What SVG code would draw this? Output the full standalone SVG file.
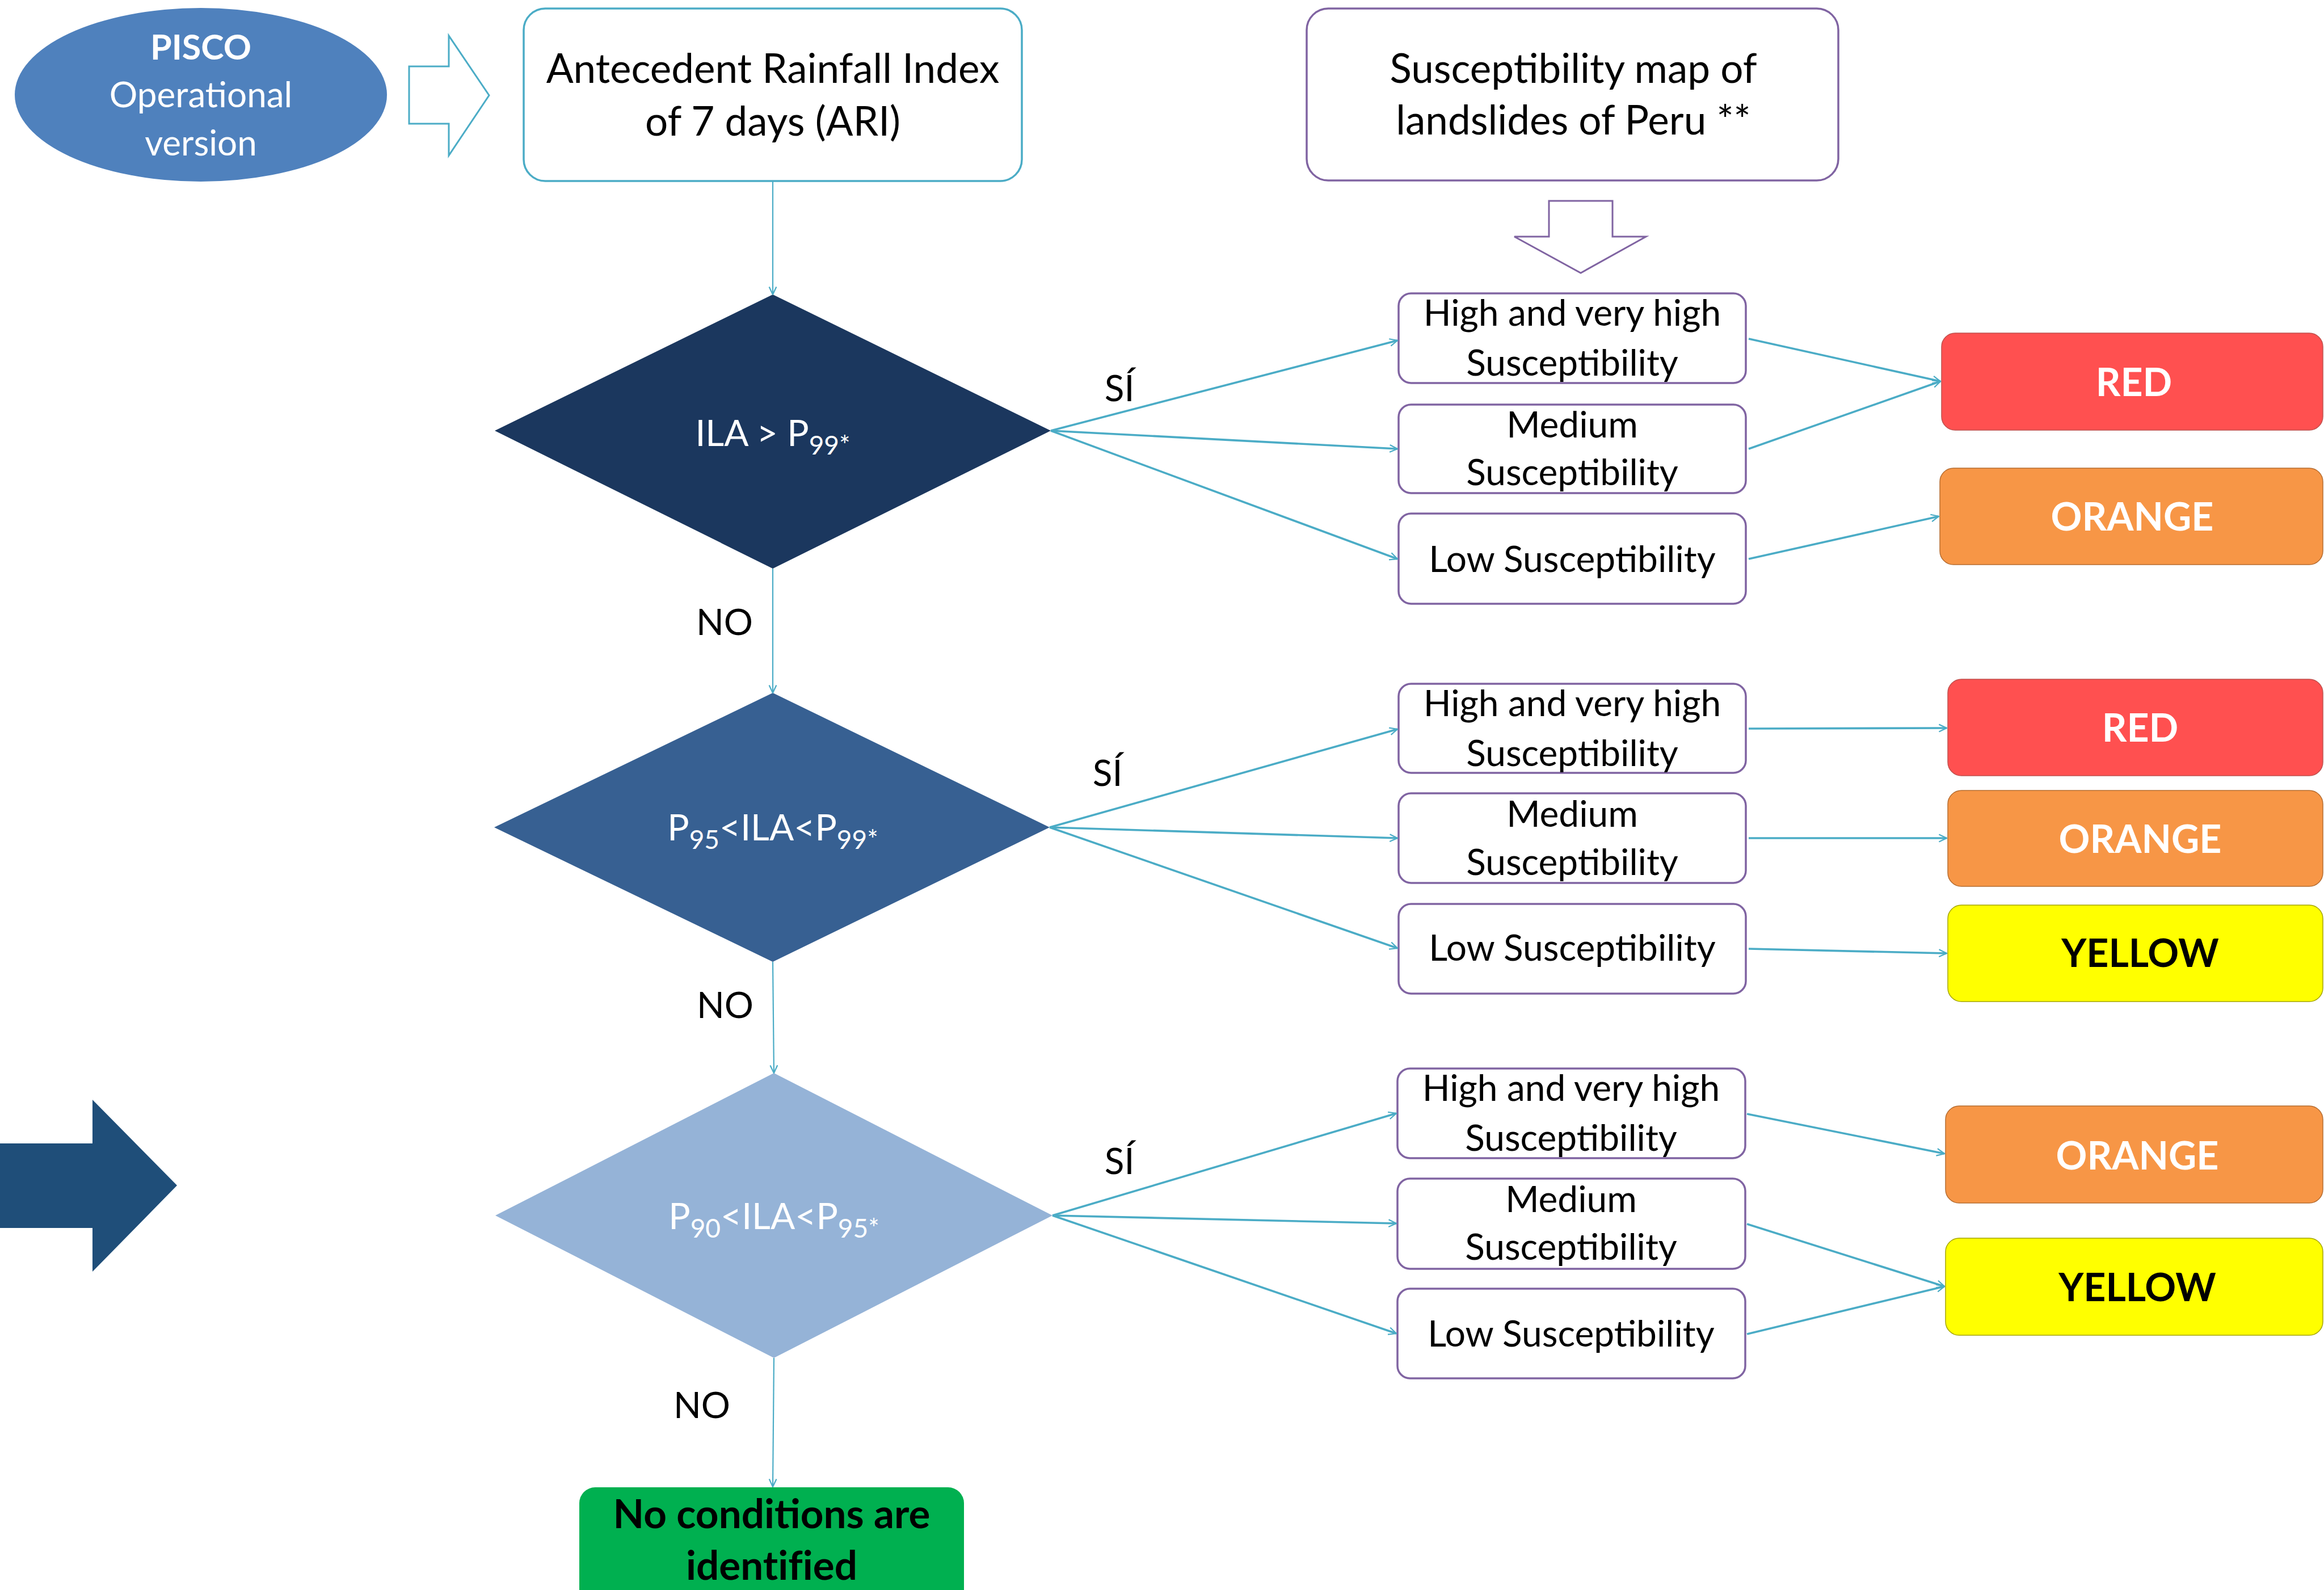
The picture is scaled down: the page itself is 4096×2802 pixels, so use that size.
<svg xmlns="http://www.w3.org/2000/svg" width="4096" height="2802" viewBox="0 0 4096 2802">
<style>
.t{font-family:Lato,"Noto Sans",sans-serif;text-anchor:middle;fill:#000}
.w{fill:#fff}
.b{font-weight:bold}
.sub{fill:#fff;stroke:#8064A2;stroke-width:3.5}
.conn{stroke:#4BACC6;fill:none}
.thin{stroke-width:2.2}
.thick{stroke-width:3.6}
</style>
<defs>
<marker id="arr" viewBox="0 0 10 10" refX="9.5" refY="5" markerWidth="16" markerHeight="16" markerUnits="userSpaceOnUse" orient="auto">
<path d="M1,1 L9.5,5 L1,9" fill="none" stroke="#4BACC6" stroke-width="1.4"/>
</marker>
</defs>
<rect width="4096" height="2802" fill="#fff"/>

<g id="pisco">
<ellipse cx="354" cy="167" rx="328" ry="153" fill="#4F81BD"/>
<text class="t w b" x="354" y="105" font-size="61">PISCO</text>
<text class="t w" x="354" y="189" font-size="62">Operational</text>
<text class="t w" x="354" y="274" font-size="62">version</text>
</g>

<g id="arrow-right-hollow">
<path d="M721,117 L791,117 L791,63 L862,168 L791,274 L791,218 L721,218 Z" fill="#fff" stroke="#4BACC6" stroke-width="3"/>
</g>

<g id="ari">
<rect x="923" y="15" width="878" height="304" rx="38" fill="#fff" stroke="#4BACC6" stroke-width="3.5"/>
<text class="t" x="1362" y="146" font-size="71">Antecedent Rainfall Index</text>
<text class="t" x="1362" y="239" font-size="71">of 7 days (ARI)</text>
</g>

<g id="susc-map">
<rect x="2303" y="15" width="937" height="303" rx="38" fill="#fff" stroke="#8064A2" stroke-width="3.5"/>
<text class="t" x="2773" y="146" font-size="71">Susceptibility map of</text>
<text class="t" x="2773" y="237" font-size="71">landslides of Peru **</text>
</g>

<g id="arrow-down-hollow">
<path d="M2730,354 L2842,354 L2842,417 L2901,417 L2786,481 L2669,417 L2730,417 Z" fill="#fff" stroke="#8064A2" stroke-width="3"/>
</g>

<g id="big-arrow">
<path d="M0,2015 L163,2015 L163,1938 L312,2089 L163,2241 L163,2164 L0,2164 Z" fill="#1F4E79"/>
</g>

<g id="d1">
<path d="M1362,519 L1852,759 L1362,1002 L872,759 Z" fill="#1B375E"/>
<text class="t w" x="1362" y="786" font-size="64">ILA &gt; P<tspan font-size="46" dy="15">99*</tspan></text>
</g>

<g id="d2">
<path d="M1362,1221 L1850,1458 L1362,1695 L871,1458 Z" fill="#376092"/>
<text class="t w" x="1362" y="1481" font-size="64">P<tspan font-size="46" dy="15">95</tspan><tspan dy="-15">&lt;ILA&lt;P</tspan><tspan font-size="46" dy="15">99*</tspan></text>
</g>

<g id="d3">
<path d="M1364,1891 L1855,2142 L1364,2393 L873,2142 Z" fill="#95B3D7"/>
<text class="t w" x="1364" y="2166" font-size="64">P<tspan font-size="46" dy="15">90</tspan><tspan dy="-15">&lt;ILA&lt;P</tspan><tspan font-size="46" dy="15">95*</tspan></text>
</g>

<g id="r1-high">
<rect class="sub" x="2465" y="517" width="612" height="158" rx="22"/>
<text class="t" x="2771" y="574" font-size="64">High and very high</text>
<text class="t" x="2771" y="662" font-size="64">Susceptibility</text>
</g>
<g id="r1-medium">
<rect class="sub" x="2465" y="713" width="612" height="156" rx="22"/>
<text class="t" x="2771" y="771" font-size="64">Medium</text>
<text class="t" x="2771" y="855" font-size="64">Susceptibility</text>
</g>
<g id="r1-low">
<rect class="sub" x="2465" y="905" width="612" height="159" rx="22"/>
<text class="t" x="2771" y="1008" font-size="64">Low Susceptibility</text>
</g>

<g id="r2-high">
<rect class="sub" x="2465" y="1205" width="612" height="157" rx="22"/>
<text class="t" x="2771" y="1262" font-size="64">High and very high</text>
<text class="t" x="2771" y="1350" font-size="64">Susceptibility</text>
</g>
<g id="r2-medium">
<rect class="sub" x="2465" y="1398" width="612" height="158" rx="22"/>
<text class="t" x="2771" y="1457" font-size="64">Medium</text>
<text class="t" x="2771" y="1542" font-size="64">Susceptibility</text>
</g>
<g id="r2-low">
<rect class="sub" x="2465" y="1593" width="612" height="158" rx="22"/>
<text class="t" x="2771" y="1693" font-size="64">Low Susceptibility</text>
</g>

<g id="r3-high">
<rect class="sub" x="2463" y="1883" width="613" height="158" rx="22"/>
<text class="t" x="2769" y="1940" font-size="64">High and very high</text>
<text class="t" x="2769" y="2028" font-size="64">Susceptibility</text>
</g>
<g id="r3-medium">
<rect class="sub" x="2463" y="2077" width="613" height="159" rx="22"/>
<text class="t" x="2769" y="2136" font-size="64">Medium</text>
<text class="t" x="2769" y="2220" font-size="64">Susceptibility</text>
</g>
<g id="r3-low">
<rect class="sub" x="2463" y="2271" width="613" height="158" rx="22"/>
<text class="t" x="2769" y="2373" font-size="64">Low Susceptibility</text>
</g>

<g id="red1">
<rect x="3422" y="587" width="672" height="171" rx="24" fill="#FF5050" stroke="#C0504D" stroke-width="1.5"/>
<text class="t w b" x="3761" y="698" font-size="68">RED</text>
</g>
<g id="orange1">
<rect x="3419" y="825" width="675" height="170" rx="24" fill="#F79646" stroke="#B66D31" stroke-width="1.5"/>
<text class="t w b" x="3758" y="935" font-size="68">ORANGE</text>
</g>
<g id="red2">
<rect x="3433" y="1197" width="661" height="170" rx="24" fill="#FF5050" stroke="#C0504D" stroke-width="1.5"/>
<text class="t w b" x="3772" y="1307" font-size="68">RED</text>
</g>
<g id="orange2">
<rect x="3433" y="1393" width="661" height="169" rx="24" fill="#F79646" stroke="#B66D31" stroke-width="1.5"/>
<text class="t w b" x="3772" y="1503" font-size="68">ORANGE</text>
</g>
<g id="yellow2">
<rect x="3433" y="1595" width="661" height="170" rx="24" fill="#FFFF00" stroke="#A5A500" stroke-width="1.5"/>
<text class="t b" x="3772" y="1704" font-size="68">YELLOW</text>
</g>
<g id="orange3">
<rect x="3429" y="1949" width="665" height="171" rx="24" fill="#F79646" stroke="#B66D31" stroke-width="1.5"/>
<text class="t w b" x="3767" y="2061" font-size="68">ORANGE</text>
</g>
<g id="yellow3">
<rect x="3429" y="2182" width="665" height="171" rx="24" fill="#FFFF00" stroke="#A5A500" stroke-width="1.5"/>
<text class="t b" x="3767" y="2293" font-size="68">YELLOW</text>
</g>

<g id="none">
<rect x="1021" y="2621" width="678" height="220" rx="28" fill="#00B050"/>
<text class="t b" x="1360" y="2693" font-size="71">No conditions are</text>
<text class="t b" x="1360" y="2784" font-size="71" style="font-variant-ligatures:none">identified</text>
</g>

<g id="connectors">
<line class="conn thin" x1="1362" y1="319" x2="1362" y2="519" marker-end="url(#arr)"/>
<line class="conn thin" x1="1362" y1="1002" x2="1362" y2="1221" marker-end="url(#arr)"/>
<line class="conn thin" x1="1362" y1="1695" x2="1364" y2="1891" marker-end="url(#arr)"/>
<line class="conn thin" x1="1364" y1="2393" x2="1362" y2="2620" marker-end="url(#arr)"/>

<line class="conn thick" x1="1852" y1="759" x2="2463" y2="600" marker-end="url(#arr)"/>
<line class="conn thick" x1="1852" y1="759" x2="2463" y2="791" marker-end="url(#arr)"/>
<line class="conn thick" x1="1852" y1="759" x2="2463" y2="985" marker-end="url(#arr)"/>
<line class="conn thick" x1="3082" y1="597" x2="3420" y2="672" marker-end="url(#arr)"/>
<line class="conn thick" x1="3082" y1="791" x2="3420" y2="672" marker-end="url(#arr)"/>
<line class="conn thick" x1="3082" y1="985" x2="3417" y2="910" marker-end="url(#arr)"/>

<line class="conn thick" x1="1850" y1="1458" x2="2463" y2="1285" marker-end="url(#arr)"/>
<line class="conn thick" x1="1850" y1="1458" x2="2463" y2="1477" marker-end="url(#arr)"/>
<line class="conn thick" x1="1850" y1="1458" x2="2463" y2="1671" marker-end="url(#arr)"/>
<line class="conn thick" x1="3082" y1="1284" x2="3431" y2="1283" marker-end="url(#arr)"/>
<line class="conn thick" x1="3082" y1="1477" x2="3431" y2="1477" marker-end="url(#arr)"/>
<line class="conn thick" x1="3082" y1="1672" x2="3431" y2="1680" marker-end="url(#arr)"/>

<line class="conn thick" x1="1855" y1="2142" x2="2461" y2="1962" marker-end="url(#arr)"/>
<line class="conn thick" x1="1855" y1="2142" x2="2461" y2="2156" marker-end="url(#arr)"/>
<line class="conn thick" x1="1855" y1="2142" x2="2461" y2="2350" marker-end="url(#arr)"/>
<line class="conn thick" x1="3079" y1="1963" x2="3427" y2="2033" marker-end="url(#arr)"/>
<line class="conn thick" x1="3079" y1="2157" x2="3427" y2="2267" marker-end="url(#arr)"/>
<line class="conn thick" x1="3079" y1="2351" x2="3427" y2="2267" marker-end="url(#arr)"/>

<text class="t" x="1973" y="707" font-size="64">SÍ</text>
<text class="t" x="1952" y="1385" font-size="64">SÍ</text>
<text class="t" x="1973" y="2069" font-size="64">SÍ</text>
<text class="t" x="1277" y="1119" font-size="64">NO</text>
<text class="t" x="1278" y="1794" font-size="64">NO</text>
<text class="t" x="1237" y="2499" font-size="64">NO</text>
</g>
</svg>
